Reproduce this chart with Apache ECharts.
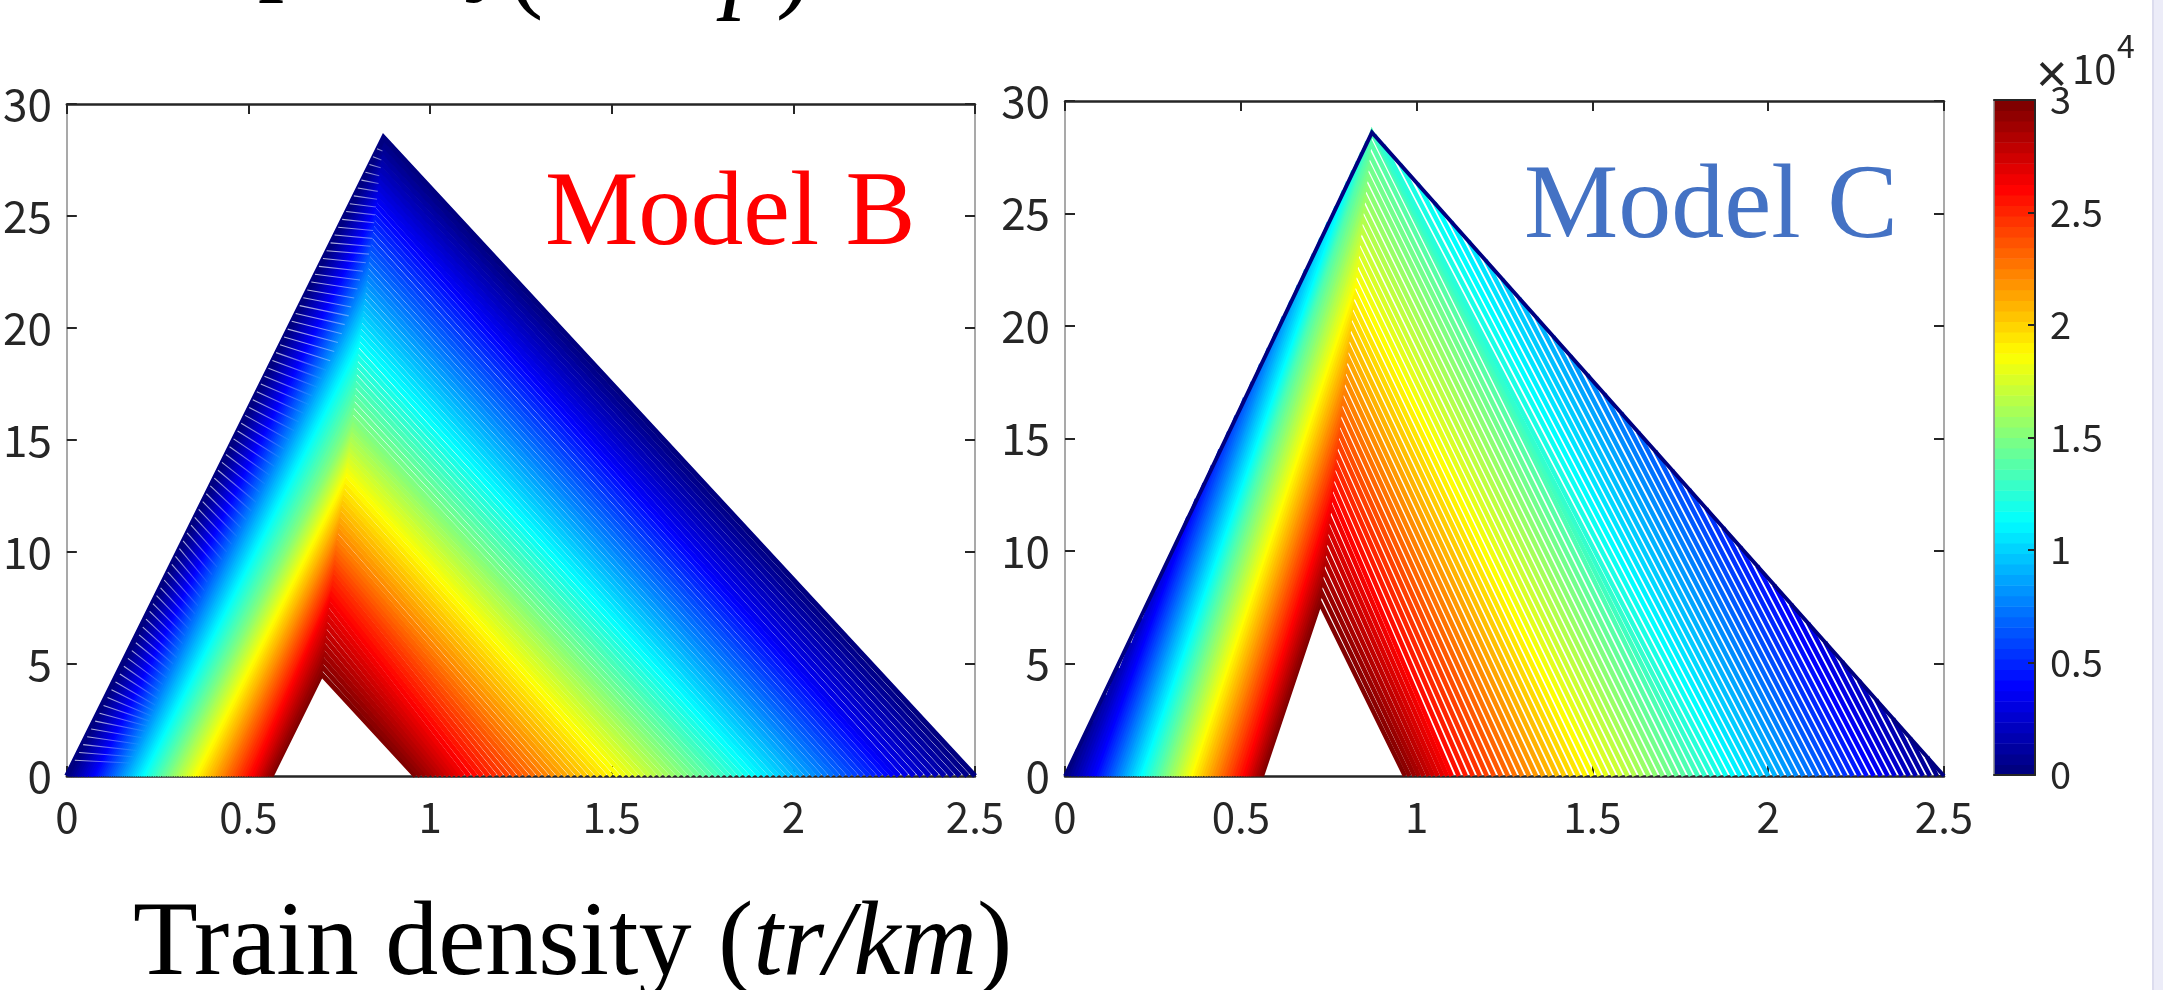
<!DOCTYPE html>
<html><head><meta charset="utf-8">
<style>html,body{margin:0;padding:0;background:#fff}#c{width:2163px;height:990px}</style>
<script src="https://cdn.jsdelivr.net/npm/echarts@6/dist/echarts.min.js"></script>
</head><body><div id="c"></div>
<script>
// tick labels
const xTicks=[0,0.5,1,1.5,2,2.5];
const yTicks=[0,5,10,15,20,25,30];
const barTicks=[0,5000,10000,15000,20000,25000,30000];
const levelMax=30000;
// Model B contours, outermost (0) to innermost (30000)
const bLeftBase=[0,.006,.013,.019,.026,.032,.038,.045,.051,.058,.064,.070,.076,.082,.088,.094,.100,.106,.112,.118,.124,.130,.136,.142,.148,.154,.160,.166,.172,.178,.184,.190,.196,.202,.208,.214,.221,.227,.234,.240,.247,.253,.260,.266,.273,.279,.285,.292,.298,.305,.311,.318,.324,.331,.337,.344,.350,.357,.364,.370,.377,.384,.391,.398,.404,.411,.418,.425,.431,.438,.445,.452,.459,.465,.472,.479,.486,.492,.499,.506,.511,.516,.522,.527,.532,.537,.542,.547,.553,.558,.563];
const bRightBase=[2.500,2.479,2.458,2.437,2.416,2.395,2.374,2.353,2.332,2.311,2.290,2.273,2.257,2.240,2.223,2.207,2.190,2.173,2.157,2.140,2.123,2.107,2.090,2.073,2.057,2.040,2.023,2.007,1.990,1.973,1.957,1.940,1.923,1.907,1.890,1.873,1.856,1.839,1.822,1.805,1.789,1.772,1.755,1.738,1.721,1.704,1.687,1.670,1.653,1.636,1.619,1.603,1.586,1.569,1.552,1.535,1.517,1.499,1.481,1.464,1.446,1.428,1.410,1.392,1.374,1.357,1.339,1.321,1.303,1.285,1.267,1.250,1.232,1.214,1.196,1.178,1.160,1.142,1.125,1.107,1.090,1.077,1.064,1.051,1.038,1.025,1.012,.999,.986,.973,.960];
const bRidgeY=[28.50,28.23,27.96,27.69,27.42,27.15,26.88,26.61,26.34,26.07,25.80,25.53,25.26,24.99,24.72,24.45,24.18,23.91,23.64,23.37,23.10,22.83,22.56,22.29,22.02,21.75,21.48,21.21,20.94,20.67,20.40,20.13,19.86,19.58,19.30,19.0,18.7,18.4,18.1,17.8,17.5,17.2,16.9,16.6,16.3,16.0,15.77,15.55,15.32,15.09,14.86,14.64,14.41,14.18,13.95,13.73,13.50,13.25,13.0,12.75,12.5,12.25,12.0,11.75,11.5,11.25,11.0,10.75,10.5,10.28,10.07,9.85,9.63,9.42,9.2,8.96,8.72,8.48,8.24,8.0,7.71,7.39,7.08,6.76,6.44,6.13,5.81,5.50,5.18,4.87,4.55];
const bRidgeX=[.872,.870,.868,.866,.864,.862,.860,.858,.856,.854,.852,.850,.848,.846,.844,.842,.840,.837,.835,.833,.831,.829,.827,.825,.823,.821,.819,.817,.815,.813,.811,.809,.807,.805,.803,.801,.800,.798,.797,.795,.794,.792,.791,.789,.787,.786,.784,.783,.781,.779,.777,.776,.774,.772,.770,.769,.767,.765,.763,.760,.758,.756,.754,.751,.749,.747,.745,.742,.740,.739,.737,.736,.735,.734,.733,.731,.729,.726,.724,.722,.720,.718,.716,.714,.712,.710,.708,.706,.705,.703,.701];
// Model B: the pale gaps that run in from its left edge (start height on the edge, start x, end x, end y)
const bGapStartY=[.7,1.05,1.4,1.75,2.1,2.45,2.8,3.15,3.5,3.85,4.2,4.55,4.9,5.25,5.6,5.95,6.3,6.65,7,7.35,7.7,8.05,8.4,8.75,9.1,9.45,9.8,10.15,10.5,10.85,11.2,11.55,11.9,12.25,12.6,12.95,13.3,13.65,14,14.35,14.7,15.05,15.4,15.75,16.1,16.45,16.8,17.15,17.5,17.85,18.2,18.55,18.9,19.25,19.6,19.95,20.3,20.65,21,21.35,21.7,22.05,22.4,22.75,23.1,23.45,23.8,24.15,24.5,24.85,25.2,25.55,25.9,26.25,26.6,26.95,27.3,27.65,28];
const bGapStartX=[.022,.034,.045,.056,.067,.078,.090,.101,.112,.123,.134,.146,.157,.168,.179,.190,.199,.209,.218,.228,.237,.247,.258,.268,.278,.289,.299,.310,.320,.331,.342,.352,.363,.374,.384,.395,.406,.416,.427,.438,.448,.459,.470,.480,.491,.502,.512,.523,.534,.544,.555,.566,.576,.587,.598,.608,.619,.630,.641,.651,.662,.673,.683,.694,.705,.715,.726,.737,.747,.758,.769,.779,.790,.801,.811,.822,.833,.843,.854];
const bGapEndX=[.173,.183,.191,.199,.207,.216,.222,.228,.233,.239,.244,.251,.256,.264,.275,.284,.293,.303,.309,.319,.325,.335,.343,.353,.361,.369,.379,.387,.400,.414,.427,.440,.454,.468,.480,.494,.508,.521,.532,.545,.558,.572,.586,.598,.612,.626,.639,.652,.666,.676,.690,.701,.714,.725,.736,.746,.757,.765,.776,.783,.791,.800,.807,.815,.823,.832,.836,.840,.843,.846,.849,.851,.854,.856,.858,.860,.864,.866,.869];
const bGapEndY=[.58,.86,1.14,1.42,1.71,2.0,2.22,2.45,2.68,2.91,3.16,3.45,3.77,4.09,4.38,4.71,5.0,5.28,5.62,5.91,6.27,6.58,6.93,7.24,7.6,7.96,8.27,8.65,8.99,9.32,9.66,10.01,10.35,10.7,11.07,11.44,11.83,12.22,12.66,13.04,13.43,13.82,14.22,14.6,15.0,15.41,15.8,16.19,16.58,16.97,17.35,17.74,18.12,18.54,18.95,19.35,19.74,20.15,20.54,20.94,21.34,21.74,22.14,22.53,22.91,23.3,23.65,24.0,24.35,24.7,25.05,25.4,25.75,26.1,26.45,26.8,27.15,27.5,27.9];
// Model C contours: base points, and where each line ends on the left/right (outer edge, or the ridge)
const cLeftBase=[0,.008,.016,.025,.033,.041,.049,.057,.066,.074,.082,.089,.095,.102,.109,.116,.122,.129,.135,.142,.148,.155,.161,.168,.174,.181,.187,.194,.201,.207,.214,.221,.228,.235,.242,.250,.257,.264,.271,.278,.285,.292,.300,.307,.314,.321,.328,.335,.342,.350,.357,.364,.372,.379,.386,.394,.401,.409,.416,.424,.431,.438,.446,.453,.461,.468,.475,.483,.490,.498,.505,.511,.516,.522,.527,.533,.538,.544,.549,.555,.560];
const cRightBase=[2.50,2.48,2.46,2.44,2.42,2.40,2.38,2.36,2.34,2.32,2.30,2.28,2.26,2.24,2.22,2.20,2.18,2.16,2.14,2.12,2.10,2.08,2.06,2.04,2.02,2.00,1.98,1.96,1.94,1.92,1.90,1.88,1.86,1.84,1.82,1.80,1.78,1.76,1.74,1.72,1.70,1.68,1.66,1.64,1.62,1.60,1.58,1.56,1.54,1.52,1.50,1.48,1.46,1.44,1.42,1.40,1.38,1.36,1.34,1.32,1.30,1.28,1.26,1.24,1.22,1.20,1.18,1.16,1.14,1.12,1.10,1.087,1.074,1.060,1.047,1.034,1.020,1.007,.994,.980,.967];
const cLeftTopY=[28.6,1.2,2.4,3.6,4.8,5.9,7.0,8.2,9.3,10.4,11.5,12.3,13.0,13.8,14.5,15.3,16.0,16.8,17.5,18.3,19.0,19.7,20.4,21.1,21.8,22.5,23.2,23.9,24.6,25.3,26.0,26.4,26.9,27.3,27.7,28.2,28.6,28.13,27.65,27.18,26.7,26.23,25.75,25.28,24.8,24.33,23.85,23.38,22.9,22.43,21.95,21.48,21.0,20.53,20.05,19.58,19.1,18.63,18.15,17.68,17.2,16.73,16.25,15.78,15.3,14.83,14.35,13.88,13.4,12.93,12.45,11.98,11.5,11.03,10.55,10.08,9.6,9.13,8.65,8.18,7.7];
const cLeftTopX=[.873,.038,.077,.115,.154,.189,.222,.256,.288,.320,.351,.375,.397,.421,.442,.467,.488,.512,.534,.558,.580,.601,.622,.644,.665,.686,.708,.729,.750,.772,.793,.805,.820,.833,.845,.860,.873,.870,.866,.863,.860,.856,.853,.849,.846,.843,.839,.836,.833,.829,.826,.823,.819,.816,.813,.809,.806,.803,.799,.796,.792,.789,.786,.782,.779,.776,.772,.769,.766,.762,.759,.756,.752,.749,.746,.742,.739,.735,.732,.729,.725];
const cRightTopY=[28.6,.85,1.70,2.55,3.40,4.25,5.10,5.95,6.79,7.64,8.49,9.34,10.19,11.04,11.89,12.74,13.59,14.44,15.29,16.14,16.99,17.84,18.68,19.53,20.38,21.23,22.08,22.93,23.78,24.63,25.48,26.33,27.18,28.03,28.3,28.5,28.6,28.13,27.65,27.18,26.7,26.23,25.75,25.28,24.8,24.33,23.85,23.38,22.9,22.43,21.95,21.48,21.0,20.53,20.05,19.58,19.1,18.63,18.15,17.68,17.2,16.73,16.25,15.78,15.3,14.83,14.35,13.88,13.4,12.93,12.45,11.98,11.5,11.03,10.55,10.08,9.6,9.13,8.65,8.18,7.7];
const cRightTopX=[.873,2.452,2.403,2.355,2.307,2.258,2.210,2.162,2.114,2.065,2.017,1.969,1.920,1.872,1.824,1.775,1.727,1.679,1.630,1.582,1.534,1.486,1.437,1.389,1.341,1.292,1.244,1.196,1.148,1.099,1.051,1.003,.954,.906,.889,.880,.873,.870,.866,.863,.860,.856,.853,.849,.846,.843,.839,.836,.833,.829,.826,.823,.819,.816,.813,.809,.806,.803,.799,.796,.792,.789,.786,.782,.779,.776,.772,.769,.766,.762,.759,.756,.752,.749,.746,.742,.739,.735,.732,.729,.725];

function jet(t){ // MATLAB jet colormap
  const c=v=>Math.round(255*Math.max(0,Math.min(1,v)));
  const r=c(1.5-Math.abs(4*t-3)),g=c(1.5-Math.abs(4*t-2)),b=c(1.5-Math.abs(4*t-1));
  return `rgb(${r},${g},${b})`;
}
const INK='#262626',EDGE='#8c8c8c',TICKFONT='"Noto Sans CJK JP","Liberation Sans",sans-serif';
const series=[];
for(let i=bLeftBase.length-1;i>=0;i--){
  const t=i/(bLeftBase.length-1);
  series.push({type:'line',xAxisIndex:0,yAxisIndex:0,symbol:'none',silent:true,clip:false,animation:false,z:2,
    lineStyle:{color:jet(t),width:i<11?5.3:(i<75?4.5:4.9),join:'miter',cap:'butt'},
    data:[[bLeftBase[i],0],[bRidgeX[i],bRidgeY[i]],[bRightBase[i],0]]});
}
bGapStartY.forEach((y0,k)=>{
  const tail=y0>19?0.35:0;
  series.push({type:'line',xAxisIndex:0,yAxisIndex:0,symbol:'none',silent:true,clip:false,animation:false,z:3,
    lineStyle:{width:1.1,cap:'butt',color:new echarts.graphic.LinearGradient(0,0,1,0,[{offset:0,color:'rgba(235,235,255,0.8)'},{offset:1,color:`rgba(235,235,255,${tail})`}])},
    data:[[bGapStartX[k],y0],[bGapEndX[k],bGapEndY[k]]]});
});
for(let i=cLeftBase.length-1;i>=0;i--){
  const t=i/(cLeftBase.length-1);
  const d=[[cLeftBase[i],0],[cLeftTopX[i],cLeftTopY[i]]];
  if(cLeftTopX[i]!==cRightTopX[i]) d.push(['-','-']);
  d.push([cRightTopX[i],cRightTopY[i]],[cRightBase[i],0]);
  series.push({type:'line',xAxisIndex:2,yAxisIndex:2,symbol:'none',silent:true,clip:false,animation:false,z:2,connectNulls:false,
    lineStyle:{color:jet(t),width:i===0?4:4.5,join:'miter',cap:'butt'},data:d});
}
// colour bar: 64 bands on the value axis
const bands=[];for(let k=0;k<64;k++)bands.push([k*levelMax/64,(k+1)*levelMax/64,k/63]);
series.push({type:'custom',xAxisIndex:4,yAxisIndex:4,silent:true,clip:false,animation:false,z:1,data:bands,encode:{y:[0,1]},
  renderItem:(p,api)=>{const a=api.coord([0,api.value(0)]),b=api.coord([1,api.value(1)]);
    return {type:'rect',shape:{x:a[0],y:b[1],width:b[0]-a[0],height:a[1]-b[1]+0.5},style:{fill:jet(api.value(2))}};}});

const label={color:INK,fontFamily:TICKFONT,fontSize:44,margin:15,showMinLabel:true,showMaxLabel:true,hideOverlap:false};
function xA(gi,pos,show){return {type:'value',gridIndex:gi,position:pos,min:0,max:2.5,interval:.5,splitLine:{show:false},
  axisLine:{show:true,onZero:false,lineStyle:{color:INK,width:2.5}},axisTick:{show:true,inside:true,length:10,lineStyle:{color:INK,width:2}},
  axisLabel:show?Object.assign({},label,{fontSize:42,margin:20}):{show:false}};}
function yA(gi,pos,show){return {type:'value',gridIndex:gi,position:pos,min:0,max:30,interval:5,splitLine:{show:false},
  axisLine:{show:true,onZero:false,lineStyle:{color:EDGE,width:1.5}},axisTick:{show:true,inside:true,length:10,lineStyle:{color:INK,width:2}},
  axisLabel:show?label:{show:false}};}
function barX(pos){return {type:'value',gridIndex:2,position:pos,min:0,max:1,splitLine:{show:false},z:5,
  axisLine:{show:true,onZero:false,lineStyle:{color:INK,width:2}},axisTick:{show:false},axisLabel:{show:false}};}
const option={
  backgroundColor:'#fff',animation:false,
  grid:[{left:66,top:104,width:909,height:672},{left:1065,top:101,width:879,height:675},{left:1994,top:100,width:41,height:675}],
  xAxis:[xA(0,'bottom',true),xA(0,'top',false),xA(1,'bottom',true),xA(1,'top',false),barX('bottom'),barX('top')],
  yAxis:[yA(0,'left',true),yA(0,'right',false),yA(1,'left',true),yA(1,'right',false),
    {type:'value',gridIndex:2,position:'right',min:0,max:levelMax,interval:5000,splitLine:{show:false},z:5,
     axisLine:{show:true,onZero:false,lineStyle:{color:INK,width:2}},axisTick:{show:true,inside:true,length:7,lineStyle:{color:INK,width:2}},
     axisLabel:{color:INK,fontFamily:TICKFONT,fontSize:38,margin:15,showMinLabel:true,showMaxLabel:true,formatter:v=>String(v/10000)}},
    {type:'value',gridIndex:2,position:'left',min:0,max:levelMax,interval:5000,splitLine:{show:false},z:5,
     axisLine:{show:true,onZero:false,lineStyle:{color:EDGE,width:1.5}},axisTick:{show:false},axisLabel:{show:false}}],
  series:series,
  graphic:[
    {type:'rect',shape:{x:2152,y:0,width:11,height:990},style:{fill:'#ececf8'},z:0},
    {type:'rect',shape:{x:2152,y:0,width:2,height:990},style:{fill:'#dcdcee'},z:0},
    {type:'text',x:545,y:164,z:10,style:{text:'Model B',fill:'#ff0000',font:'105px "Liberation Serif"'}},
    {type:'text',x:1524,y:156,z:10,style:{text:'Model C',fill:'#4472c4',font:'106px "Liberation Serif"'}},
    {type:'text',x:133,y:999,z:10,style:{text:'{a|Train density (}{b|tr/km}{a|)}',verticalAlign:'bottom',rich:{a:{font:'106px "Liberation Serif"',fill:'#000'},b:{font:'italic 106px "Liberation Serif"',fill:'#000'}}}},
    {type:'text',x:140,y:-101,z:10,style:{text:'Capacity',fill:'#000',font:'106px "Liberation Serif"'}},
    {type:'text',x:508,y:23,z:10,style:{text:'{a|(}{b|km /p}{a|)}',verticalAlign:'bottom',rich:{a:{font:'106px "Liberation Serif"',fill:'#000'},b:{font:'italic 106px "Liberation Serif"',fill:'#000'}}}},
    {type:'text',x:2036,y:50,z:10,style:{text:'×',fill:INK,font:'54px "Liberation Sans"'}},
    {type:'text',x:2072,y:49,z:10,style:{text:'10',fill:INK,font:'40px "Noto Sans CJK JP"'}},
    {type:'text',x:2117,y:30,z:10,style:{text:'4',fill:INK,font:'32px "Noto Sans CJK JP"'}}
  ]
};
const chart=echarts.init(document.getElementById('c'),null,{renderer:'canvas',width:2163,height:990});
chart.setOption(option);
</script></body></html>
